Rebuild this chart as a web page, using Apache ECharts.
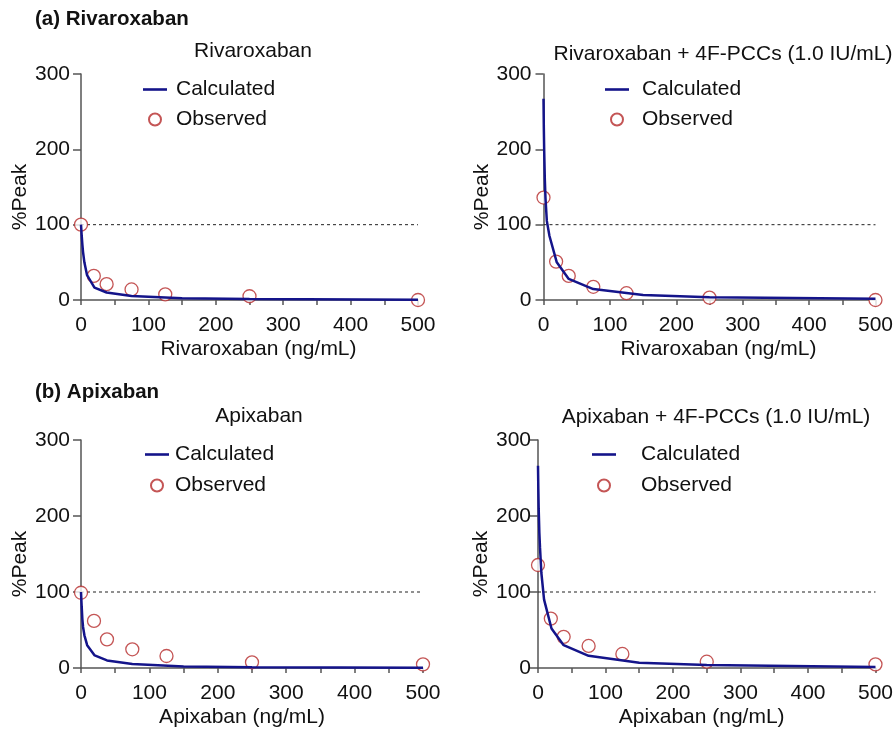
<!DOCTYPE html>
<html>
<head>
<meta charset="utf-8">
<script src="https://cdn.jsdelivr.net/npm/echarts@6/dist/echarts.min.js"></script>
<style>
html,body{margin:0;padding:0;background:#fff;}
#chart{width:896px;height:729px;}
</style>
</head>
<body>
<div id="chart"></div>
<script>
// ---- data ----
const calcConc = [0, 0.5, 1, 2, 3, 5, 9, 20, 38, 75, 150, 250, 500];
const rivCalc = [100, 93, 86, 74, 64, 50, 33, 16.5, 10, 5.2, 2.2, 1.2, 0.4];
const rivPccCalc = [267, 228, 200, 160, 135, 105, 85, 50, 28, 14.5, 6.5, 3.5, 1.5];
const apiCalc = [100, 90, 81, 64, 54, 43, 30, 16.5, 10, 5.2, 2, 1, 0.4];
const apiPccCalc = [266, 235, 210, 178, 158, 125, 90, 52, 30, 16, 7, 4, 1.3];

const obsConc = [0, 19, 38, 75, 125, 250, 500];
const rivObs = [100, 32, 21, 14, 7.5, 5, 0];
const rivPccObs = [136, 51, 32, 17.5, 9, 3.2, 0];
const apiObs = [99, 62, 37.7, 24.6, 15.8, 7.5, 4.8];
const apiPccObs = [135.5, 65, 41, 29, 18.5, 8.3, 4.8];

const refX = [0, 500];
const refY = [100, 100];

const sectionTitles = ['(a) Rivaroxaban', '(b) Apixaban'];
const panelTitles = ['Rivaroxaban', 'Rivaroxaban + 4F-PCCs (1.0 IU/mL)', 'Apixaban', 'Apixaban + 4F-PCCs (1.0 IU/mL)'];
const xNames = ['Rivaroxaban (ng/mL)', 'Rivaroxaban (ng/mL)', 'Apixaban (ng/mL)', 'Apixaban (ng/mL)'];
const yName = '%Peak';
const legendNames = ['Calculated', 'Observed'];
const calcSets = [rivCalc, rivPccCalc, apiCalc, apiPccCalc];
const obsSets = [rivObs, rivPccObs, apiObs, apiPccObs];

// ---- layout ----
const FONT = "'Liberation Sans', Arial, Helvetica, sans-serif";
const grids = [
  {left: 81, top: 74, width: 337, height: 226},
  {left: 543.5, top: 74, width: 336.5, height: 226},
  {left: 81, top: 440, width: 342, height: 228},
  {left: 538, top: 440, width: 341, height: 228}
];
const titlePos = [
  {left: 253, top: 41}, {left: 723, top: 44}, {left: 259, top: 406}, {left: 716, top: 407}
];
const yLabelMargin = [11, 12, 11, 7];
const yNameGap = [48, 48, 48, 44];
const xNamePad = [[0,0,0,18],[0,0,0,18],[0,20,0,0],[0,10,0,0]];
const legendPos = [
  {left: 143, top: 79, gap: 9, pad: 4},
  {left: 605, top: 79, gap: 9, pad: 8},
  {left: 145, top: 444, gap: 10, pad: 1},
  {left: 592, top: 444, gap: 10, pad: 20}
];

const LINE_COLOR = '#14148a';
const OBS_COLOR = '#b52a2a';
const AXIS_COLOR = '#555';

const zip = (xs, ys) => xs.map((x, i) => [x, ys[i]]);

const title = [
  {text: sectionTitles[0], left: 35, top: 9, padding: 0,
   textStyle: {fontFamily: FONT, fontSize: 20.5, fontWeight: 'bold', color: '#111'}},
  {text: sectionTitles[1], left: 35, top: 382, padding: 0,
   textStyle: {fontFamily: FONT, fontSize: 20.5, fontWeight: 'bold', color: '#111'}}
];
panelTitles.forEach((t, i) => {
  title.push({text: t, left: titlePos[i].left, top: titlePos[i].top, textAlign: 'center', padding: 0,
    textStyle: {fontFamily: FONT, fontSize: 21, fontWeight: 'normal', color: '#111'}});
});

const xAxis = [], yAxis = [], series = [], legend = [];
grids.forEach((g, i) => {
  xAxis.push({
    type: 'value', gridIndex: i, min: 0, max: 500, interval: 100,
    name: xNames[i], nameLocation: 'middle', nameGap: 39,
    nameTextStyle: {fontFamily: FONT, fontSize: 21, color: '#111', padding: xNamePad[i]},
    axisLine: {show: true, onZero: false, lineStyle: {color: AXIS_COLOR, width: 1.5}},
    axisTick: {show: true, length: 5, lineStyle: {color: AXIS_COLOR, width: 1.5}},
    minorTick: {show: true, splitNumber: 2, length: 5, lineStyle: {color: AXIS_COLOR, width: 1.5}},
    axisLabel: {fontFamily: FONT, fontSize: 21, color: '#111', margin: 15},
    splitLine: {show: false}
  });
  yAxis.push({
    type: 'value', gridIndex: i, min: 0, max: 300, interval: 100,
    name: yName, nameLocation: 'middle', nameGap: yNameGap[i],
    nameTextStyle: {fontFamily: FONT, fontSize: 21, color: '#111', padding: [0, 20, 0, 0]},
    axisLine: {show: true, onZero: false, lineStyle: {color: AXIS_COLOR, width: 1.5}},
    axisTick: {show: true, length: 8, lineStyle: {color: AXIS_COLOR, width: 1.5}},
    axisLabel: {fontFamily: FONT, fontSize: 21, color: '#111', margin: yLabelMargin[i]},
    splitLine: {show: false}
  });
  series.push({
    name: 'ref' + i, type: 'line', xAxisIndex: i, yAxisIndex: i,
    data: zip(refX, refY), symbol: 'none', silent: true, z: 1,
    lineStyle: {color: '#222', width: 1, type: [3, 3]}
  });
  series.push({
    name: legendNames[1], type: 'scatter', xAxisIndex: i, yAxisIndex: i,
    data: zip(obsConc, obsSets[i]), symbol: 'circle', symbolSize: 13, z: 2,
    itemStyle: {color: '#fff', borderColor: OBS_COLOR, borderWidth: 1.3}
  });
  series.push({
    name: legendNames[0], type: 'line', xAxisIndex: i, yAxisIndex: i,
    data: zip(calcConc, calcSets[i]), symbol: 'none', z: 3,
    lineStyle: {color: LINE_COLOR, width: 2.5}, itemStyle: {color: LINE_COLOR}
  });
  const lp = legendPos[i];
  legend.push({
    orient: 'vertical', left: lp.left, top: lp.top, padding: 0, itemGap: lp.gap,
    itemWidth: 24, itemHeight: 12, selectedMode: false,
    data: [
      {name: legendNames[0], icon: 'path://M0,0L24,0L24,2.6L0,2.6Z', itemStyle: {color: LINE_COLOR}},
      {name: legendNames[1], icon: 'circle'}
    ],
    textStyle: {fontFamily: FONT, fontSize: 21, color: '#111', padding: [0, 0, 0, lp.pad]}
  });
});

const chart = echarts.init(document.getElementById('chart'), null, {renderer: 'canvas'});
chart.setOption({
  animation: false,
  backgroundColor: '#fff',
  title: title,
  legend: legend,
  grid: grids,
  xAxis: xAxis,
  yAxis: yAxis,
  series: series
});
</script>
</body>
</html>
